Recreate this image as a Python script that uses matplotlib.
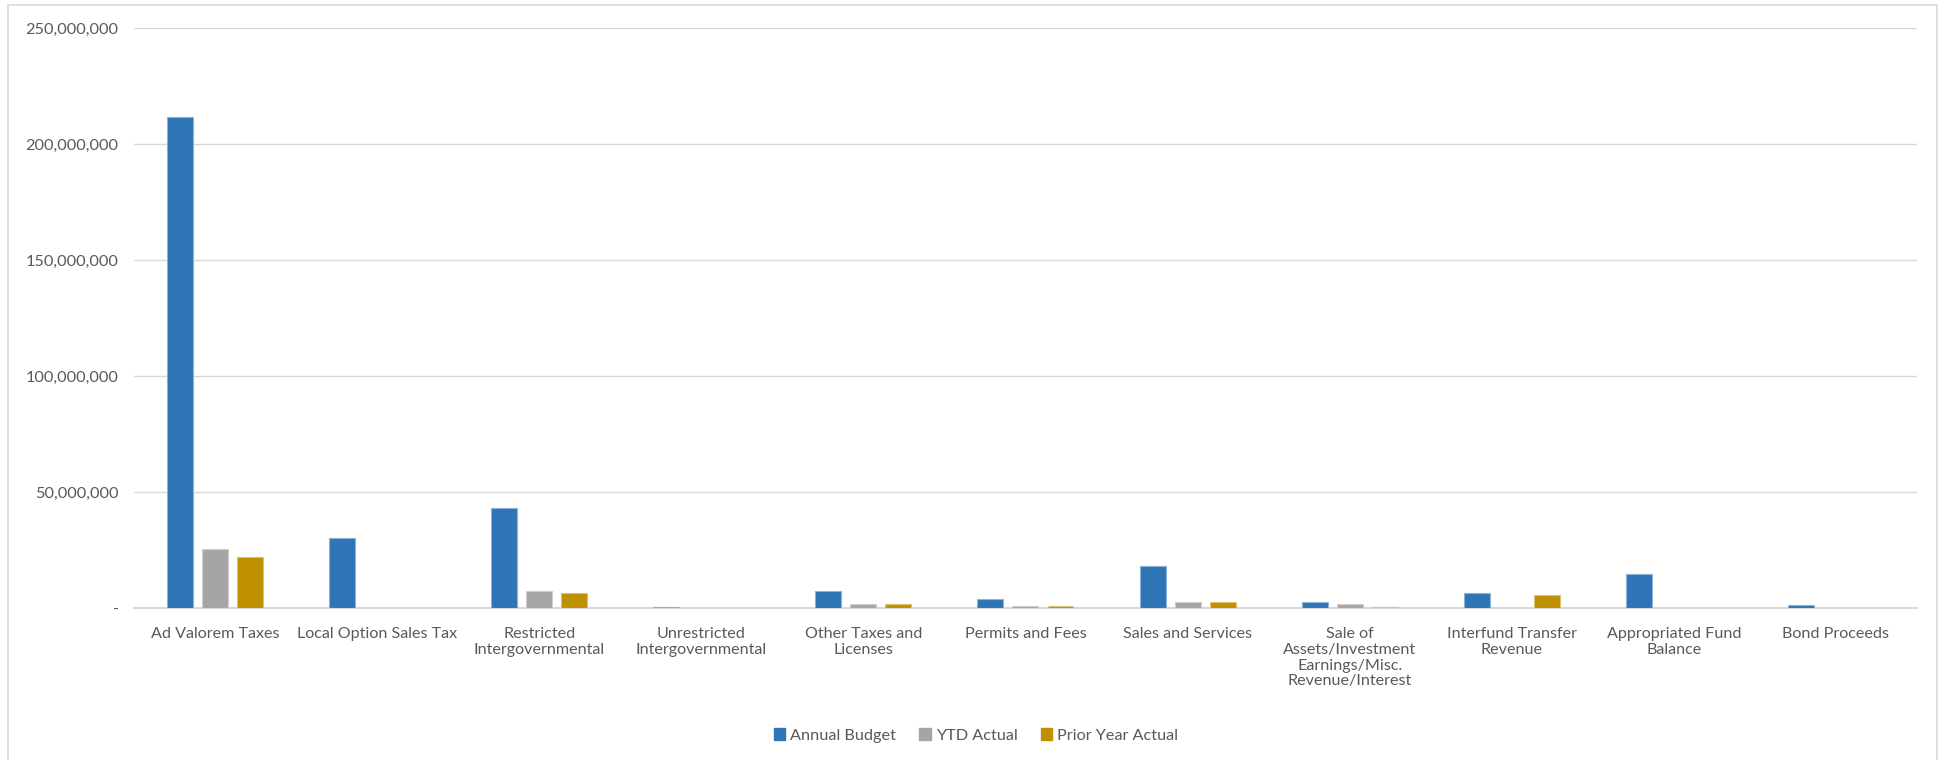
import matplotlib.pyplot as plt
import matplotlib.patches as mpatches
import matplotlib.colors as mcolors
import numpy as np
from matplotlib.ticker import FuncFormatter

plt.rcParams['font.family'] = ['Lato', 'DejaVu Sans']

categories = ["Ad Valorem Taxes", "Local Option Sales Tax", "Restricted\nIntergovernmental",
              "Unrestricted\nIntergovernmental", "Other Taxes and\nLicenses", "Permits and Fees",
              "Sales and Services", "Sale of\nAssets/Investment\nEarnings/Misc.\nRevenue/Interest",
              "Interfund Transfer\nRevenue", "Appropriated Fund\nBalance", "Bond Proceeds"]

# values in millions
annual_budget = [211.8, 30.2, 43.1, 0.6, 7.4, 3.9, 18.2, 2.6, 6.6, 14.8, 1.3]
ytd_actual = [25.6, 0, 7.2, 0, 1.7, 1.0, 2.6, 1.6, 0, 0, 0]
prior_year = [22.1, 0, 6.3, 0, 1.8, 1.0, 2.4, 0.6, 5.5, 0, 0]

series = ["Annual Budget", "YTD Actual", "Prior Year Actual"]
colors = ["#2E75B6", "#A5A5A5", "#BF9000"]
text_col = "#595959"


def tint(c, f=0.45):
    r = np.array(mcolors.to_rgb(c))
    return tuple(r + (1 - r) * f)


fig = plt.figure(figsize=(19.44, 7.6), dpi=100)
ax = fig.add_axes([0.0689, 0.2, 0.9172, 0.763])

x = np.arange(len(categories))
w = 0.16
step = 0.216
for i, (vals, c, name) in enumerate(zip([annual_budget, ytd_actual, prior_year], colors, series)):
    vals = np.array(vals) * 1e6
    ax.bar(x + (i - 1) * step, vals, width=w, color=c,
           edgecolor=[tint(c) if v > 0 else "none" for v in vals],
           linewidth=0.8, label=name, zorder=3)

ax.set_xlim(-0.5, len(categories) - 0.5)
ax.set_ylim(0, 250e6)
ax.set_yticks(np.arange(0, 250e6 + 1, 50e6))
ax.yaxis.set_major_formatter(FuncFormatter(lambda v, p: "-" if v == 0 else f"{int(v):,}"))
ax.grid(axis="y", color="#D9D9D9", linewidth=1, zorder=0)
for s in ["top", "right", "left"]:
    ax.spines[s].set_visible(False)
ax.spines["bottom"].set_color("#D9D9D9")
ax.spines["bottom"].set_linewidth(1.5)
ax.spines["bottom"].set_zorder(2)

ax.set_xticks(x)
ax.set_xticklabels(categories, fontsize=11.6, color=text_col, linespacing=1.15, va="top")
ax.tick_params(axis="x", length=0, pad=14)
ax.tick_params(axis="y", length=0, pad=11, labelsize=11.7, labelcolor=text_col)

handles = [mpatches.Patch(color=c, label=n) for c, n in zip(colors, series)]
fig.legend(handles=handles, loc="center", bbox_to_anchor=(0.502, 0.032), ncol=3,
           frameon=False, fontsize=11.7, handlelength=0.7, handleheight=0.7,
           handletextpad=0.3, columnspacing=1.45, labelcolor=text_col)

border = mpatches.Rectangle((8 / 1944, -0.05), (1937 - 8) / 1944, 1.05 - 5 / 760,
                            transform=fig.transFigure, fill=False, edgecolor="#D9D9D9",
                            linewidth=1.2)
fig.patches.append(border)

fig.savefig("out.png", dpi=100, facecolor="white")
